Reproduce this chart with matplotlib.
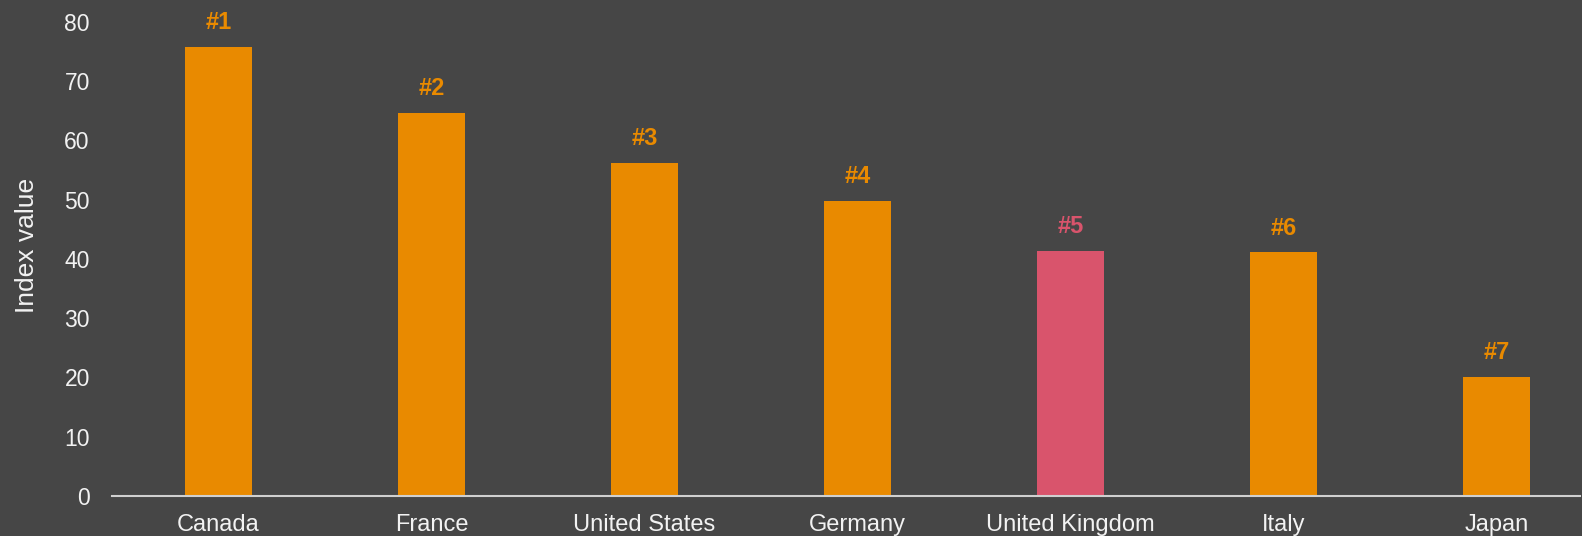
import matplotlib
matplotlib.use("Agg")
import matplotlib.pyplot as plt

countries = ["Canada", "France", "United States", "Germany", "United Kingdom", "Italy", "Japan"]
values = [75.8, 64.6, 56.2, 49.8, 41.3, 41.1, 20.1]
ranks = ["#1", "#2", "#3", "#4", "#5", "#6", "#7"]
highlight = "United Kingdom"

BG = "#464646"
ORANGE = "#E98A00"
PINK = "#D9546C"
TEXT = "#F2F2F2"

plt.rcParams['font.family'] = ['Liberation Sans', 'DejaVu Sans']

fig = plt.figure(figsize=(15.82, 5.36), dpi=100, facecolor=BG)
ax = fig.add_axes([0.0708, 0.0746, 0.9277, 0.8849], facecolor=BG)

colors = [PINK if c == highlight else ORANGE for c in countries]
x = list(range(len(countries)))
ax.bar(x, values, width=0.315, color=colors)

for xi, v, r, col in zip(x, values, ranks, colors):
    ax.annotate(r, (xi, v), xytext=(0, 17.5), textcoords="offset points",
                ha="center", va="center", color=col, fontsize=17, fontweight="bold")

ax.set_ylim(0, 80)
ax.set_xlim(-0.5, 6.39)
ax.set_yticks(range(0, 81, 10))
ax.set_xticks(x)
ax.set_xticklabels(countries)
ax.tick_params(axis="y", length=0, labelsize=16.5, colors=TEXT, pad=16)
ax.tick_params(axis="x", length=0, labelsize=17, colors=TEXT, pad=13)
ax.set_ylabel("Index value", color=TEXT, fontsize=19, va="center")
ax.yaxis.set_label_coords(-0.058, 0.528)

for s in ["top", "right", "left"]:
    ax.spines[s].set_visible(False)
ax.spines["bottom"].set_color("#D0D0D0")
ax.spines["bottom"].set_linewidth(1.5)

fig.savefig("out.png", dpi=100, facecolor=BG)
